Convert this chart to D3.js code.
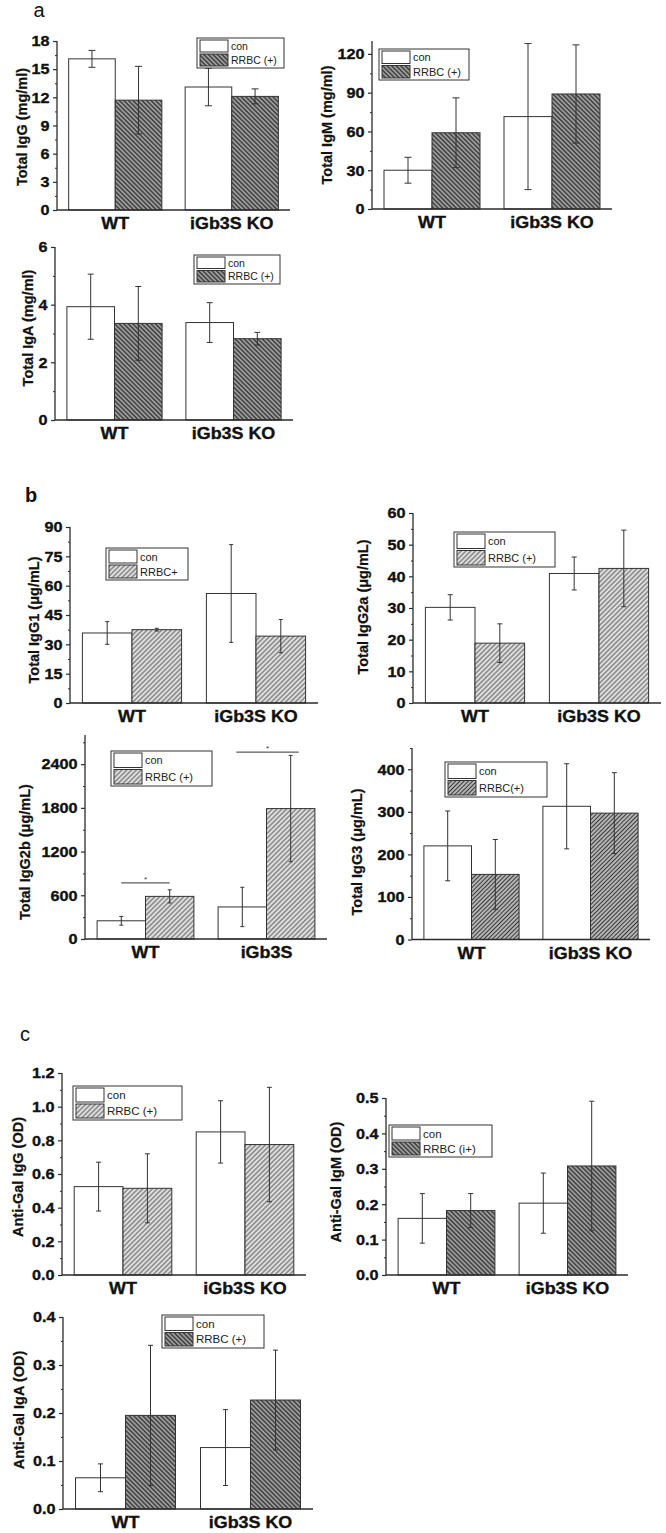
<!DOCTYPE html>
<html>
<head>
<meta charset="utf-8">
<script src="https://cdn.jsdelivr.net/npm/d3@7"></script>
<style>
  html, body { margin: 0; padding: 0; background: #fff; }
  svg { display: block; }
  text { font-family: "Liberation Sans", Arial, sans-serif; }
</style>
</head>
<body>
<svg id="chart" width="666" height="1533"></svg>
<script>
// ---------------- DATA ----------------
const groups = ["WT", "iGb3S KO"];
const groupsIgG2b = ["WT", "iGb3S"];

// panel a
const totalIgG_con = [16.1, 13.1];
const totalIgG_conErr = [0.9, 2.0];
const totalIgG_rrbc = [11.7, 12.1];
const totalIgG_rrbcErr = [3.6, 0.8];
const ticksTotalIgG = [0, 3, 6, 9, 12, 15, 18];

const totalIgM_con = [30, 71.5];
const totalIgM_conErr = [10, 56.5];
const totalIgM_rrbc = [59, 89];
const totalIgM_rrbcErr = [27, 38];
const ticksTotalIgM = [0, 30, 60, 90, 120];

const totalIgA_con = [3.93, 3.38];
const totalIgA_conErr = [1.13, 0.69];
const totalIgA_rrbc = [3.35, 2.82];
const totalIgA_rrbcErr = [1.28, 0.22];
const ticksTotalIgA = [0, 2, 4, 6];

// panel b
const totalIgG1_con = [35.8, 56.0];
const totalIgG1_conErr = [5.8, 25.0];
const totalIgG1_rrbc = [37.5, 34.2];
const totalIgG1_rrbcErr = [0.7, 8.5];
const ticksTotalIgG1 = [0, 15, 30, 45, 60, 75, 90];

const totalIgG2a_con = [30.2, 40.9];
const totalIgG2a_conErr = [4.0, 5.2];
const totalIgG2a_rrbc = [18.9, 42.5];
const totalIgG2a_rrbcErr = [6.1, 12.1];
const ticksTotalIgG2a = [0, 10, 20, 30, 40, 50, 60];

const totalIgG2b_con = [250, 440];
const totalIgG2b_conErr = [60, 270];
const totalIgG2b_rrbc = [585, 1790];
const totalIgG2b_rrbcErr = [90, 730];
const totalIgG2b_sig = [770, 2565];
const ticksTotalIgG2b = [0, 600, 1200, 1800, 2400];

const totalIgG3_con = [220, 313];
const totalIgG3_conErr = [82, 100];
const totalIgG3_rrbc = [153, 297];
const totalIgG3_rrbcErr = [82, 95];
const ticksTotalIgG3 = [0, 100, 200, 300, 400];

// panel c
const antiGalIgG_con = [0.525, 0.85];
const antiGalIgG_conErr = [0.145, 0.185];
const antiGalIgG_rrbc = [0.515, 0.775];
const antiGalIgG_rrbcErr = [0.205, 0.34];
const ticksAntiGalIgG = [0, 0.2, 0.4, 0.6, 0.8, 1.0, 1.2];

const antiGalIgM_con = [0.16, 0.203];
const antiGalIgM_conErr = [0.07, 0.085];
const antiGalIgM_rrbc = [0.182, 0.308];
const antiGalIgM_rrbcErr = [0.048, 0.183];
const ticksAntiGalIgM = [0, 0.1, 0.2, 0.3, 0.4, 0.5];

const antiGalIgA_con = [0.065, 0.128];
const antiGalIgA_conErr = [0.029, 0.079];
const antiGalIgA_rrbc = [0.195, 0.227];
const antiGalIgA_rrbcErr = [0.146, 0.104];
const ticksAntiGalIgA = [0, 0.1, 0.2, 0.3, 0.4];

// ---------------- PANELS ----------------
const fInt = d3.format("d"), f1 = d3.format(".1f");
const panels = [
  { groups, con: totalIgG_con, conErr: totalIgG_conErr, rrbc: totalIgG_rrbc, rrbcErr: totalIgG_rrbcErr,
    ticks: ticksTotalIgG, yMax: 18, fmt: fInt, title: "Total IgG (mg/ml)", legend: ["con", "RRBC (+)"], hatch: "hDark",
    L: { axL: 57, axR: 290, y0: 210, yTop: 41, lg: [197, 38, 87, 30], lgFs: 10.5, tt: [22, 127], cap: 7 } },
  { groups, con: totalIgM_con, conErr: totalIgM_conErr, rrbc: totalIgM_rrbc, rrbcErr: totalIgM_rrbcErr,
    ticks: ticksTotalIgM, yMax: 130, fmt: fInt, title: "Total IgM (mg/ml)", legend: ["con", "RRBC (+)"], hatch: "hDark",
    L: { axL: 372, axR: 612, y0: 209, yTop: 41, lg: [379, 49, 90, 31], lgFs: 11, tt: [327, 125], cap: 7 } },
  { groups, con: totalIgA_con, conErr: totalIgA_conErr, rrbc: totalIgA_rrbc, rrbcErr: totalIgA_rrbcErr,
    ticks: ticksTotalIgA, yMax: 6, fmt: fInt, title: "Total IgA (mg/ml)", legend: ["con", "RRBC (+)"], hatch: "hDark",
    L: { axL: 55, axR: 293, y0: 420, yTop: 247, lg: [194, 255, 86, 29], lgFs: 10.5, tt: [28, 328], cap: 6 } },
  { groups, con: totalIgG1_con, conErr: totalIgG1_conErr, rrbc: totalIgG1_rrbc, rrbcErr: totalIgG1_rrbcErr,
    ticks: ticksTotalIgG1, yMax: 90, fmt: fInt, title: "Total IgG1 (\u03bcg/mL)", legend: ["con", "RRBC+"], hatch: "hLight",
    L: { axL: 70, axR: 318, y0: 703, yTop: 527, lg: [106, 548, 82, 32], lgFs: 11, tt: [34, 620], cap: 4 } },
  { groups, con: totalIgG2a_con, conErr: totalIgG2a_conErr, rrbc: totalIgG2a_rrbc, rrbcErr: totalIgG2a_rrbcErr,
    ticks: ticksTotalIgG2a, yMax: 60, fmt: fInt, title: "Total IgG2a (\u03bcg/mL)", legend: ["con", "RRBC (+)"], hatch: "hLight",
    L: { axL: 413, axR: 661, y0: 703, yTop: 513, lg: [454, 532, 101, 35], lgFs: 11, tt: [363, 607], cap: 5 } },
  { groups: groupsIgG2b, con: totalIgG2b_con, conErr: totalIgG2b_conErr, rrbc: totalIgG2b_rrbc, rrbcErr: totalIgG2b_rrbcErr,
    sig: totalIgG2b_sig,
    ticks: ticksTotalIgG2b, yMax: 2800, fmt: fInt, title: "Total IgG2b (\u03bcg/mL)", legend: ["con", "RRBC (+)"], hatch: "hLight",
    L: { axL: 85, axR: 327, y0: 939, yTop: 735, lg: [111, 751, 101, 35], lgFs: 11, tt: [25, 852], cap: 4 } },
  { groups, con: totalIgG3_con, conErr: totalIgG3_conErr, rrbc: totalIgG3_rrbc, rrbcErr: totalIgG3_rrbcErr,
    ticks: ticksTotalIgG3, yMax: 450, fmt: fInt, title: "Total IgG3 (\u03bcg/mL)", legend: ["con", "RRBC(+)"], hatch: "hMid",
    L: { axL: 412, axR: 650, y0: 939.5, yTop: 748, lg: [445, 762, 102, 35], lgFs: 11, tt: [357, 852], cap: 5 } },
  { groups, con: antiGalIgG_con, conErr: antiGalIgG_conErr, rrbc: antiGalIgG_rrbc, rrbcErr: antiGalIgG_rrbcErr,
    ticks: ticksAntiGalIgG, yMax: 1.2, fmt: f1, title: "Anti-Gal IgG (OD)", legend: ["con", "RRBC (+)"], hatch: "hLight",
    L: { axL: 62, axR: 306, y0: 1275, yTop: 1073, lg: [73, 1086, 109, 34], lgFs: 11.5, tt: [18, 1177], cap: 5 } },
  { groups, con: antiGalIgM_con, conErr: antiGalIgM_conErr, rrbc: antiGalIgM_rrbc, rrbcErr: antiGalIgM_rrbcErr,
    ticks: ticksAntiGalIgM, yMax: 0.5, fmt: f1, title: "Anti-Gal IgM (OD)", legend: ["con", "RRBC (i+)"], hatch: "hDark",
    L: { axL: 386, axR: 628, y0: 1275, yTop: 1098, lg: [389, 1125, 103, 32], lgFs: 11.5, tt: [336, 1182], cap: 5 } },
  { groups, con: antiGalIgA_con, conErr: antiGalIgA_conErr, rrbc: antiGalIgA_rrbc, rrbcErr: antiGalIgA_rrbcErr,
    ticks: ticksAntiGalIgA, yMax: 0.4, fmt: f1, title: "Anti-Gal IgA (OD)", legend: ["con", "RRBC (+)"], hatch: "hDark",
    L: { axL: 63, axR: 313, y0: 1509, yTop: 1317, lg: [162, 1315, 102, 33], lgFs: 11.5, tt: [19, 1410], cap: 5 } },
];

const panelLetters = [
  { t: "a", x: 39, y: 17, w: "normal", fs: 20 },
  { t: "b", x: 31, y: 502, w: "bold", fs: 20 },
  { t: "c", x: 25, y: 1041, w: "normal", fs: 20 },
];

// ---------------- DRAW ----------------
const svg = d3.select("#chart");
const defs = svg.append("defs");

function hatch(id, bg, fg, sw, size, angle) {
  const p = defs.append("pattern").attr("id", id)
    .attr("patternUnits", "userSpaceOnUse")
    .attr("width", size).attr("height", size)
    .attr("patternTransform", `rotate(${angle})`);
  p.append("rect").attr("width", size).attr("height", size).attr("fill", bg);
  p.append("line").attr("x1", size / 2).attr("x2", size / 2).attr("y1", 0).attr("y2", size)
    .attr("stroke", fg).attr("stroke-width", sw);
}
hatch("hDark", "#474747", "#c4c4c4", 1.1, 3.2, -45);
hatch("hLight", "#e0e0e0", "#4a4a4a", 0.9, 3.4, 45);
hatch("hMid", "#b4b4b4", "#3a3a3a", 1.0, 3.0, 45);

const axisColor = "#2b2b2b";

panels.forEach(P => {
  const L = P.L;
  const g = svg.append("g");
  const y = d3.scaleLinear().domain([0, P.yMax]).range([L.y0, L.yTop]);
  const x = d3.scaleBand().domain(P.groups).range([L.axL, L.axR]).paddingInner(0.2).paddingOuter(0.1);
  const xs = d3.scaleBand().domain(["con", "rrbc"]).range([0, x.bandwidth()]);

  const rows = P.groups.map((gname, i) => ({
    g: gname,
    bars: [
      { s: "con", v: P.con[i], e: P.conErr[i] },
      { s: "rrbc", v: P.rrbc[i], e: P.rrbcErr[i] },
    ]
  }));

  // bars
  const gg = g.selectAll("g.grp").data(rows).join("g").attr("transform", d => `translate(${x(d.g)},0)`);
  gg.selectAll("rect").data(d => d.bars).join("rect")
    .attr("x", d => xs(d.s))
    .attr("width", xs.bandwidth())
    .attr("y", d => y(d.v))
    .attr("height", d => y(0) - y(d.v))
    .attr("fill", d => d.s === "con" ? "#fff" : `url(#${P.hatch})`)
    .attr("stroke", "#333").attr("stroke-width", 1);

  // error bars
  const eb = gg.selectAll("g.eb").data(d => d.bars).join("g")
    .attr("transform", d => `translate(${xs(d.s) + xs.bandwidth() / 2},0)`)
    .attr("stroke", "#333").attr("stroke-width", 1);
  eb.append("line").attr("x1", 0).attr("x2", 0).attr("y1", d => y(d.v + d.e)).attr("y2", d => y(Math.max(0, d.v - d.e)));
  eb.append("line").attr("x1", -L.cap / 2).attr("x2", L.cap / 2).attr("y1", d => y(d.v + d.e)).attr("y2", d => y(d.v + d.e));
  eb.append("line").attr("x1", -L.cap / 2).attr("x2", L.cap / 2).attr("y1", d => y(Math.max(0, d.v - d.e))).attr("y2", d => y(Math.max(0, d.v - d.e)));

  // significance
  if (P.sig) {
    P.groups.forEach((gname, i) => {
      const xa = x(gname) + xs("con") + xs.bandwidth() / 2 + (i === 1 ? -6 : 0);
      const xb = x(gname) + xs("rrbc") + xs.bandwidth() / 2 + (i === 1 ? 8 : 0);
      const yy = y(P.sig[i]);
      g.append("line").attr("x1", xa).attr("x2", xb).attr("y1", yy).attr("y2", yy)
        .attr("stroke", "#333").attr("stroke-width", 1);
      g.append("text").attr("x", (xa + xb) / 2).attr("y", yy - 1).attr("text-anchor", "middle")
        .attr("font-size", 8).attr("fill", "#333").text("*");
    });
  }

  // y axis
  const minor = d3.pairs(P.ticks).map(([a, b]) => (a + b) / 2);
  const step = P.ticks[1] - P.ticks[0];
  const lastMinor = P.ticks[P.ticks.length - 1] + step / 2;
  if (lastMinor <= P.yMax + 1e-9) minor.push(lastMinor);
  const yAxis = d3.axisLeft(y).tickValues(P.ticks).tickFormat(P.fmt).tickSize(4).tickPadding(3);
  const ya = g.append("g").attr("transform", `translate(${L.axL},0)`).call(yAxis);
  ya.select(".domain").attr("stroke", axisColor).attr("stroke-width", 1.3).attr("d", `M0,${L.y0}V${L.yTop}`);
  ya.selectAll(".tick line").attr("stroke", axisColor).attr("stroke-width", 1.2);
  ya.selectAll(".tick text").attr("font-size", 15).attr("font-weight", "bold").attr("fill", "#111")
    .attr("stroke", "#111").attr("stroke-width", 0.35)
    .attr("font-family", "Liberation Sans, Arial, sans-serif")
    .attr("transform", "scale(1.08,1)");
  const yMinor = d3.axisLeft(y).tickValues(minor).tickFormat("").tickSize(2);
  const ym = g.append("g").attr("transform", `translate(${L.axL},0)`).call(yMinor);
  ym.select(".domain").remove();
  ym.selectAll(".tick line").attr("stroke", axisColor).attr("stroke-width", 1);

  // x axis
  const xAxis = d3.axisBottom(x).tickSize(0).tickPadding(8);
  const xa = g.append("g").attr("transform", `translate(0,${L.y0})`).call(xAxis);
  xa.select(".domain").attr("stroke", axisColor).attr("stroke-width", 1.3).attr("d", `M${L.axL},0H${L.axR}`);
  xa.selectAll(".tick text").attr("font-size", 16).attr("font-weight", "bold").attr("fill", "#111")
    .attr("stroke", "#111").attr("stroke-width", 0.35)
    .attr("font-family", "Liberation Sans, Arial, sans-serif")
    .attr("transform", "scale(1.12,1)");

  // axis title
  g.append("text")
    .attr("transform", `translate(${L.tt[0]},${L.tt[1]}) rotate(-90)`)
    .attr("text-anchor", "middle").attr("dominant-baseline", "central")
    .attr("font-size", 14.5).attr("font-weight", "bold").attr("fill", "#111")
    .attr("stroke", "#111").attr("stroke-width", 0.25)
    .text(P.title);

  // legend
  const [lx, ly, lw, lh] = L.lg;
  const lg = g.append("g");
  lg.append("rect").attr("x", lx).attr("y", ly).attr("width", lw).attr("height", lh)
    .attr("fill", "#fff").attr("stroke", "#333").attr("stroke-width", 1);
  const rowH = (lh - 6) / 2;
  P.legend.forEach((lab, i) => {
    const ry = ly + 2 + i * (rowH + 2);
    lg.append("rect").attr("x", lx + 3).attr("y", ry).attr("width", 28).attr("height", rowH)
      .attr("fill", i === 0 ? "#fff" : `url(#${P.hatch})`).attr("stroke", "#333").attr("stroke-width", 1);
    lg.append("text").attr("x", lx + 34).attr("y", ry + rowH / 2).attr("dominant-baseline", "central")
      .attr("font-size", L.lgFs).attr("fill", "#222").text(lab);
  });
});

// panel letters
svg.selectAll("text.letter").data(panelLetters).join("text").attr("class", "letter")
  .attr("x", d => d.x).attr("y", d => d.y).attr("text-anchor", "middle")
  .attr("font-family", "Open Sans, DejaVu Sans, sans-serif")
  .attr("font-size", d => d.fs).attr("font-weight", d => d.w).attr("fill", "#111").text(d => d.t);
</script>
</body>
</html>
